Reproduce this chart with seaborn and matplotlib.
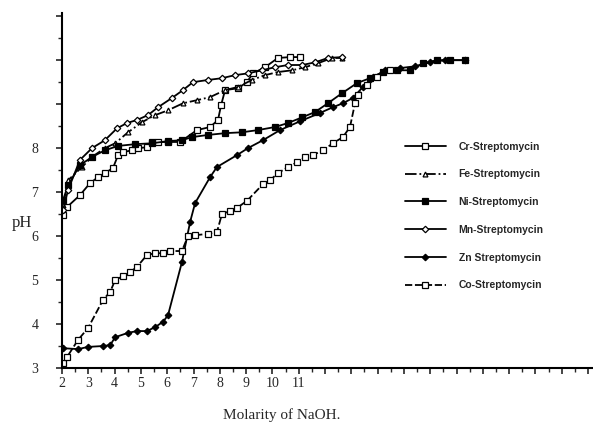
import matplotlib
matplotlib.use("Agg")
import matplotlib.pyplot as plt
import seaborn as sns
import numpy as np

# ---- data ----
cr_x = [2.04, 2.19, 2.68, 3.06, 3.37, 3.63, 3.94, 4.13, 4.32, 4.66, 4.89, 5.23, 5.42, 5.65, 6.03, 6.49,
        7.13, 7.63, 7.93, 8.05, 8.20, 8.69, 9.03, 9.26, 9.72, 10.21, 10.67, 11.05]
cr_ph = [6.48, 6.66, 6.93, 7.20, 7.34, 7.43, 7.55, 7.84, 7.91, 7.95, 8.00, 8.02, 8.14, 8.14, 8.14, 8.14,
         8.41, 8.48, 8.64, 8.98, 9.32, 9.36, 9.50, 9.70, 9.84, 10.05, 10.07, 10.07]

fe_x = [2.04, 2.23, 2.76, 3.14, 3.63, 4.02, 4.51, 5.04, 5.54, 6.03, 6.60, 7.13, 7.63, 8.20, 8.69, 9.22,
        9.72, 10.21, 10.75, 11.24, 11.73, 12.27, 12.65]
fe_ph = [6.70, 7.27, 7.57, 7.80, 8.00, 8.11, 8.36, 8.59, 8.75, 8.86, 9.02, 9.09, 9.16, 9.32, 9.39, 9.55,
         9.66, 9.73, 9.77, 9.84, 9.93, 10.05, 10.05]

ni_x = [2.04, 2.23, 2.68, 3.14, 3.63, 4.13, 4.78, 5.42, 6.03, 6.56, 6.94, 7.55, 8.20, 8.84, 9.45, 10.10,
        10.59, 11.13, 11.62, 12.11, 12.65, 13.22, 13.71, 14.21, 14.74, 15.23, 15.73, 16.26, 16.75, 17.32]
ni_ph = [6.82, 7.16, 7.61, 7.80, 7.95, 8.05, 8.09, 8.11, 8.16, 8.18, 8.25, 8.30, 8.34, 8.36, 8.41, 8.48,
         8.57, 8.70, 8.82, 9.02, 9.25, 9.48, 9.59, 9.73, 9.77, 9.77, 9.93, 10.00, 10.00, 10.00]

mn_x = [2.04, 2.23, 2.68, 3.14, 3.63, 4.09, 4.47, 4.85, 5.27, 5.65, 6.18, 6.60, 6.98, 7.55, 8.08, 8.58,
        9.07, 9.60, 10.10, 10.59, 11.13, 11.62, 12.11, 12.65]
mn_ph = [6.59, 7.05, 7.73, 8.00, 8.18, 8.45, 8.57, 8.64, 8.75, 8.93, 9.14, 9.32, 9.50, 9.55, 9.59, 9.66,
         9.70, 9.77, 9.84, 9.89, 9.89, 9.95, 10.05, 10.07]

zn_x = [2.04, 2.61, 2.99, 3.56, 3.83, 4.02, 4.51, 4.85, 5.23, 5.54, 5.84, 6.03, 6.56, 6.87, 7.06, 7.63,
        7.89, 8.65, 9.07, 9.64, 10.29, 11.05, 11.81, 12.30, 12.68, 13.06, 13.44, 13.83, 14.28, 14.85,
        15.42, 15.99, 16.56, 17.32]
zn_ph = [3.45, 3.43, 3.48, 3.50, 3.52, 3.70, 3.80, 3.84, 3.84, 3.93, 4.05, 4.20, 5.41, 6.32, 6.75, 7.34,
         7.57, 7.84, 8.00, 8.18, 8.41, 8.61, 8.80, 8.93, 9.02, 9.14, 9.39, 9.61, 9.77, 9.82,
         9.86, 9.95, 10.00, 10.00]

co_x = [2.04, 2.19, 2.61, 2.99, 3.56, 3.83, 4.02, 4.32, 4.59, 4.85, 5.23, 5.54, 5.84, 6.11, 6.56, 6.79,
        7.06, 7.55, 7.89, 8.08, 8.39, 8.65, 9.03, 9.64, 9.91, 10.21, 10.59, 10.94, 11.24, 11.54, 11.92,
        12.30, 12.68, 12.95, 13.14, 13.25, 13.60, 13.98, 14.47]
co_ph = [3.11, 3.25, 3.64, 3.91, 4.55, 4.73, 5.00, 5.09, 5.18, 5.30, 5.57, 5.61, 5.61, 5.66, 5.66, 6.00,
         6.02, 6.05, 6.09, 6.50, 6.57, 6.64, 6.80, 7.18, 7.27, 7.43, 7.57, 7.68, 7.80, 7.84, 7.95,
         8.11, 8.25, 8.48, 9.02, 9.20, 9.43, 9.61, 9.77]

series_names = ["Cr-Streptomycin", "Fe-Streptomycin", "Ni-Streptomycin",
                "Mn-Streptomycin", "Zn Streptomycin", "Co-Streptomycin"]
series_x = [cr_x, fe_x, ni_x, mn_x, zn_x, co_x]
series_y = [cr_ph, fe_ph, ni_ph, mn_ph, zn_ph, co_ph]

x_tick_labels = ["2", "3", "4", "5", "6", "7", "8", "9", "10", "11"]
y_tick_labels = ["3", "4", "5", "6", "7", "8"]

# ---- styles ----
styles = [
    dict(marker="s", linestyle="-", mfc="white", ms=4.2),
    dict(marker="^", linestyle="-.", mfc="white", ms=3.5),
    dict(marker="s", linestyle="-", mfc="black", ms=3.8),
    dict(marker="D", linestyle="-", mfc="white", ms=3.3),
    dict(marker="D", linestyle="-", mfc="black", ms=3.3),
    dict(marker="s", linestyle=(0, (4, 1.5)), mfc="white", ms=4.2),
]

sns.set_style("ticks")
plt.rcParams["font.family"] = ["Liberation Serif", "DejaVu Serif"]

fig = plt.figure(figsize=(5.93, 4.23), dpi=100)
ax = fig.add_axes([0.1046, 0.130, 0.8954, 0.839])

for name, xs, ys, st in zip(series_names, series_x, series_y, styles):
    sns.lineplot(x=xs, y=ys, ax=ax, color="black", estimator=None, sort=False,
                 marker=st["marker"], markersize=st["ms"], markerfacecolor=st["mfc"],
                 markeredgecolor="black", markeredgewidth=0.9, linewidth=1.3,
                 label=name)
    ax.lines[-1].set_linestyle(st["linestyle"])

ax.set_xlim(2, 22.19)
ax.set_ylim(3, 11.07)

ax.set_xticks(np.arange(2, 23, 1))
ax.set_xticklabels(x_tick_labels + [""] * (len(np.arange(2, 23, 1)) - len(x_tick_labels)))
ax.set_xticks(np.arange(2.5, 22.2, 1), minor=True)
ax.set_yticks(np.arange(3, 12, 1))
ax.set_yticklabels(y_tick_labels + [""] * (9 - len(y_tick_labels)))
ax.set_yticks(np.arange(3.5, 11.1, 1), minor=True)

ax.tick_params(axis="x", which="major", length=4, width=1.2, pad=2.5, labelsize=10)
ax.tick_params(axis="x", which="minor", length=3, width=1.0)
ax.tick_params(axis="y", which="major", length=4, width=1.2, pad=13, labelsize=10)
ax.tick_params(axis="y", which="minor", length=3, width=1.0)

for s in ["top", "right"]:
    ax.spines[s].set_visible(False)
for s in ["left", "bottom"]:
    ax.spines[s].set_linewidth(1.5)
    ax.spines[s].set_color("black")

ax.set_xlabel("Molarity of NaOH.", fontsize=11)
ax.xaxis.set_label_coords(0.414, -0.113)
ax.set_ylabel("pH", fontsize=12, rotation=0, va="center", ha="center")
ax.yaxis.set_label_coords(-0.075, 0.41)

handles, labels = ax.get_legend_handles_labels()
leg = ax.legend(handles, labels, loc="upper left", bbox_to_anchor=(0.683, 0.665),
                bbox_transform=fig.transFigure, frameon=False, borderpad=0, borderaxespad=0,
                handlelength=3.9, handletextpad=1.25, labelspacing=1.7,
                prop={"family": "Liberation Sans", "weight": "bold", "size": 7.5})

fig.savefig("out.png", dpi=100)
